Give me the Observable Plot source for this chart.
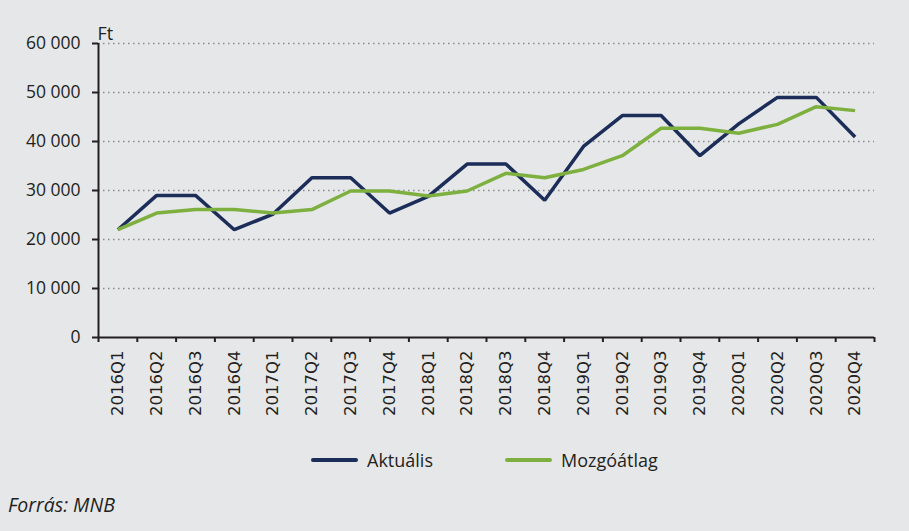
<!DOCTYPE html>
<html>
<head>
<meta charset="utf-8">
<script src="https://cdn.jsdelivr.net/npm/d3@7"></script>
<script src="https://cdn.jsdelivr.net/npm/@observablehq/plot@0.6"></script>
<style>
  html, body { margin: 0; padding: 0; background: #e6e7e9; }
  body { width: 909px; height: 531px; overflow: hidden; font-family: "Open Sans", sans-serif; color: #231f20; }
  #chart svg { display: block; background: transparent; }
  #legend { position: relative; height: 45px; }
  .item { position: absolute; top: 8px; display: flex; align-items: center; font-size: 18px; }
  .swatch { width: 47px; height: 4px; border-radius: 2px; margin-right: 9px; }
  #caption { position: absolute; left: 8px; top: 491px; font-style: italic; font-size: 19.5px; }
</style>
</head>
<body>
<div id="chart"></div>
<div id="legend">
  <div class="item" style="left:311px"><span class="swatch" style="background:#1b2d58"></span><span>Aktuális</span></div>
  <div class="item" style="left:505px"><span class="swatch" style="background:#7db03f"></span><span>Mozgóátlag</span></div>
</div>
<div id="caption">Forrás: MNB</div>
<script>
const quarters = ["2016Q1","2016Q2","2016Q3","2016Q4","2017Q1","2017Q2","2017Q3","2017Q4","2018Q1","2018Q2","2018Q3","2018Q4","2019Q1","2019Q2","2019Q3","2019Q4","2020Q1","2020Q2","2020Q3","2020Q4"];
const aktualis = [22000,29000,29000,22000,25200,32600,32600,25400,28800,35400,35400,28000,39000,45300,45300,37100,43600,49000,49000,40900];
const mozgoatlag = [22000,25400,26100,26100,25400,26100,29900,29900,28900,29900,33500,32600,34300,37100,42700,42700,41700,43500,47100,46300];
const yTicks = [0,10000,20000,30000,40000,50000,60000];
const unitLabel = "Ft";

const rows = [];
quarters.forEach((q, i) => {
  rows.push({i: i + 0.5, q, v: aktualis[i], s: "Aktuális"});
});
quarters.forEach((q, i) => {
  rows.push({i: i + 0.5, q, v: mozgoatlag[i], s: "Mozgóátlag"});
});

const fmt = d => d3.format(",")(d).replace(/,/g, " ");
const ink = "#231f20";

const chart = Plot.plot({
  width: 909,
  height: 440,
  marginLeft: 98,
  marginRight: 35,
  marginTop: 43,
  marginBottom: 103,
  style: {background: "transparent", color: ink, fontFamily: "Open Sans, sans-serif"},
  x: {domain: [0, quarters.length], axis: null},
  y: {domain: [0, 60000], axis: null},
  color: {domain: ["Aktuális", "Mozgóátlag"], range: ["#1b2d58", "#7db03f"]},
  marks: [
    Plot.ruleY(yTicks.filter(d => d > 0), {stroke: "#8a8a8a", strokeWidth: 1.5, strokeDasharray: "1.5,3.5"}),
    Plot.line(rows, {x: "i", y: "v", z: "s", stroke: "s", strokeWidth: 3.5, strokeLinejoin: "miter", strokeLinecap: "butt"}),
    Plot.ruleY([0], {stroke: ink, strokeWidth: 2}),
    Plot.ruleX([0], {y1: 0, y2: 60000, stroke: ink, strokeWidth: 2}),
    Plot.axisY({ticks: yTicks, tickFormat: fmt, tickSize: 6, tickPadding: 12, fontSize: 17.5, label: null, stroke: ink, strokeWidth: 2}),
    Plot.axisX({ticks: d3.range(0, quarters.length + 1), tickFormat: () => "", tickSize: 5, label: null, stroke: ink, strokeWidth: 2}),
    Plot.axisX({ticks: quarters.map((q, i) => i + 0.5), tickFormat: d => quarters[Math.floor(d)], tickRotate: -90, tickSize: 0, tickPadding: 13, fontSize: 16.5, fontFamily: "DejaVu Sans, sans-serif", label: null, ariaLabel: "quarter-labels"}),
    Plot.text([unitLabel], {frameAnchor: "top-left", textAnchor: "start", dx: -1, dy: -16, fontSize: 18})
  ]
});
d3.select(chart).selectAll("text").each(function() {
  if (/^\d{4}Q\d$/.test(this.textContent)) {
    this.setAttribute("font-family", "DejaVu Sans, sans-serif");
    this.style.fontFamily = "'DejaVu Sans', sans-serif";
  }
});
document.getElementById("chart").appendChild(chart);
</script>
</body>
</html>
